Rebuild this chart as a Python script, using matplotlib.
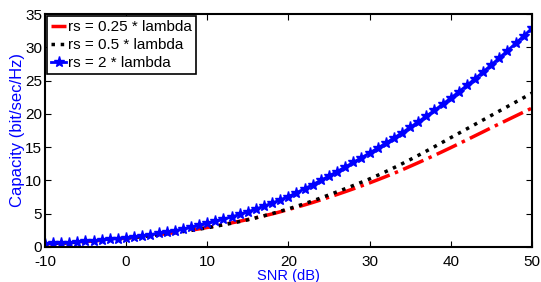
import matplotlib
matplotlib.use("Agg")
import matplotlib.pyplot as plt
import numpy as np

plt.rcParams['font.family'] = ['Liberation Sans', 'DejaVu Sans']
plt.rcParams['axes.unicode_minus'] = False

snr_db = np.arange(-10, 51)

# capacity, one value per dB
cap_025 = [0.42, 0.49, 0.555, 0.625, 0.70, 0.78, 0.87, 0.97, 1.07, 1.18,
           1.30, 1.42, 1.55, 1.68, 1.82, 1.97, 2.13, 2.30, 2.49, 2.69,
           2.90, 3.12, 3.35, 3.59, 3.84, 4.10, 4.37, 4.65, 4.94, 5.26,
           5.60, 5.94, 6.29, 6.66, 7.05, 7.45, 7.86, 8.28, 8.71, 9.15,
           9.60, 10.07, 10.55, 11.04, 11.56, 12.10, 12.64, 13.19, 13.75, 14.32,
           14.90, 15.49, 16.09, 16.69, 17.29, 17.90, 18.49, 19.08, 19.67, 20.26,
           20.85]
cap_05 = [0.42, 0.49, 0.555, 0.625, 0.70, 0.78, 0.87, 0.97, 1.07, 1.18,
          1.30, 1.42, 1.54, 1.67, 1.81, 1.95, 2.11, 2.28, 2.46, 2.65,
          2.85, 3.07, 3.30, 3.54, 3.79, 4.05, 4.35, 4.66, 4.99, 5.34,
          5.70, 6.08, 6.48, 6.90, 7.34, 7.80, 8.26, 8.73, 9.21, 9.70,
          10.20, 10.74, 11.30, 11.88, 12.48, 13.10, 13.74, 14.39, 15.05, 15.72,
          16.40, 17.07, 17.74, 18.41, 19.08, 19.75, 20.42, 21.09, 21.76, 22.43,
          23.10]
cap_2 = [0.42, 0.49, 0.56, 0.635, 0.715, 0.80, 0.90, 1.00, 1.11, 1.23,
         1.35, 1.49, 1.65, 1.82, 2.00, 2.20, 2.42, 2.66, 2.92, 3.20,
         3.50, 3.81, 4.14, 4.49, 4.86, 5.25, 5.67, 6.11, 6.57, 7.05,
         7.55, 8.13, 8.73, 9.35, 9.99, 10.65, 11.32, 12.00, 12.69, 13.39,
         14.10, 14.83, 15.58, 16.35, 17.14, 17.95, 18.79, 19.65, 20.53, 21.43,
         22.35, 23.30, 24.28, 25.28, 26.30, 27.35, 28.41, 29.49, 30.59, 31.71,
         32.85]

labels = ['rs = 0.25 * lambda', 'rs = 0.5 * lambda', 'rs = 2 * lambda']

fig = plt.figure(figsize=(5.41, 2.82), dpi=100)
ax = fig.add_axes([0.083, 0.125, 0.9, 0.825])

ax.plot(snr_db, cap_025, color='red', linestyle='-.', lw=2.5, label=labels[0])
ax.plot(snr_db, cap_05, color='black', linestyle=':', lw=2.5, label=labels[1])
ax.plot(snr_db, cap_2, color='blue', linestyle='-', lw=2, marker='*',
        markersize=8, label=labels[2])

ax.set_xlim(-10, 50)
ax.set_ylim(0, 35)
ax.set_xticks(np.arange(-10, 51, 10))
ax.set_yticks(np.arange(0, 36, 5))
ax.tick_params(direction='in', top=True, right=True, labelsize=11,
               length=4, width=0.8, pad=2)
ax.tick_params(axis='x', pad=6)
for s in ax.spines.values():
    s.set_linewidth(1.5)

ax.set_xlabel('SNR (dB)', color='blue', fontsize=10.5, labelpad=0)
ax.set_ylabel('Capacity (bit/sec/Hz)', color='blue', fontsize=12, labelpad=0)

leg = ax.legend(loc='upper left', fontsize=11, fancybox=False,
                edgecolor='black', framealpha=1, handlelength=1.0,
                handletextpad=0.1, borderaxespad=0.15, borderpad=0.25,
                labelspacing=0.25)
leg.get_frame().set_linewidth(1.2)

fig.savefig('out.png', dpi=100)
